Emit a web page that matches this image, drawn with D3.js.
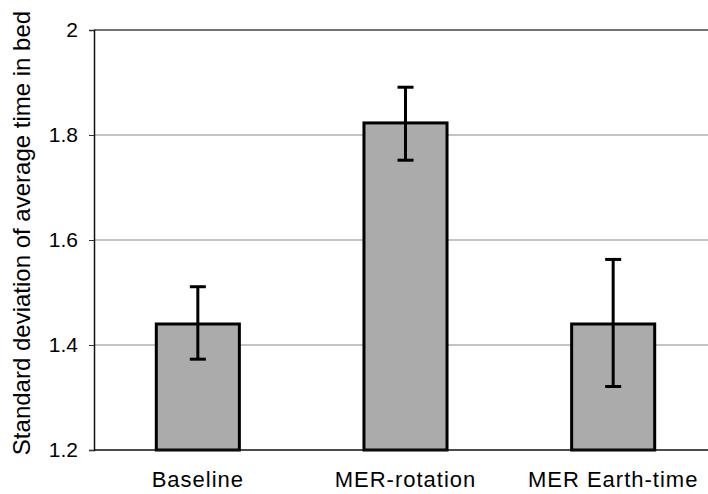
<!DOCTYPE html>
<html><head><meta charset="utf-8">
<script src="https://cdn.jsdelivr.net/npm/d3@7"></script>
<style>html,body{margin:0;padding:0;background:#fff;overflow:hidden}</style>
</head><body>
<script>
const categories = ["Baseline", "MER-rotation", "MER Earth-time"];
const means = [1.44, 1.823, 1.44];
const errLow = [1.373, 1.752, 1.321];
const errHigh = [1.511, 1.891, 1.563];
const yTicks = [1.2, 1.4, 1.6, 1.8, 2];
const yLabel = "Standard deviation of average time in bed";

const W = 708, H = 494;
const m = {left: 94, top: 30, bottom: 44};
const plotW = 623;
const svg = d3.select("body").append("svg").attr("width", W).attr("height", H)
  .style("font-family", "Liberation Sans, Arial, sans-serif");

const x = d3.scaleBand().domain(categories).range([m.left, m.left + plotW])
  .paddingInner(0.6).paddingOuter(0.3);
const y = d3.scaleLinear().domain([1.2, 2]).range([H - m.bottom, m.top]);

// gridlines
svg.append("g").selectAll("line").data(yTicks.filter(t => t > 1.2 && t < 2)).join("line")
  .attr("x1", m.left).attr("x2", m.left + plotW)
  .attr("y1", d => y(d)).attr("y2", d => y(d))
  .attr("stroke", "#8a8a8a").attr("stroke-width", 1.2);

// top border
svg.append("line").attr("x1", m.left).attr("x2", m.left + plotW)
  .attr("y1", y(2)).attr("y2", y(2)).attr("stroke", "#444").attr("stroke-width", 1.5);

// bars
svg.append("g").selectAll("rect").data(categories).join("rect")
  .attr("x", d => x(d)).attr("width", x.bandwidth())
  .attr("y", (d, i) => y(means[i])).attr("height", (d, i) => y(1.2) - y(means[i]))
  .attr("fill", "#ababab").attr("stroke", "#000").attr("stroke-width", 3);

// error bars
const eb = svg.append("g").attr("stroke", "#000").attr("stroke-width", 3);
categories.forEach((c, i) => {
  const cx = x(c) + x.bandwidth() / 2;
  eb.append("line").attr("x1", cx).attr("x2", cx).attr("y1", y(errLow[i])).attr("y2", y(errHigh[i]));
  eb.append("line").attr("x1", cx - 8).attr("x2", cx + 8).attr("y1", y(errLow[i])).attr("y2", y(errLow[i]));
  eb.append("line").attr("x1", cx - 8).attr("x2", cx + 8).attr("y1", y(errHigh[i])).attr("y2", y(errHigh[i]));
});

// y axis
const yAxis = d3.axisLeft(y).tickValues(yTicks).tickSize(5).tickPadding(11)
  .tickFormat(d => d3.format("")(d));
const ya = svg.append("g").attr("transform", `translate(${m.left},0)`).call(yAxis);
ya.select(".domain").attr("stroke", "#111").attr("stroke-width", 1.5);
ya.selectAll(".tick line").attr("stroke", "#333");
ya.selectAll("text").attr("font-size", 21).attr("fill", "#000")
  .attr("font-family", "Liberation Sans, Arial, sans-serif");

// x axis line
svg.append("line").attr("x1", m.left).attr("x2", m.left + plotW)
  .attr("y1", y(1.2)).attr("y2", y(1.2)).attr("stroke", "#111").attr("stroke-width", 1.5);

// x labels
svg.append("g").selectAll("text").data(categories).join("text")
  .attr("x", d => x(d) + x.bandwidth() / 2).attr("y", 487)
  .attr("text-anchor", "middle").attr("font-size", 22).attr("letter-spacing", 1)
  .text(d => d);

// y label
svg.append("text").attr("transform", `translate(30,233) rotate(-90)`)
  .attr("text-anchor", "middle").attr("font-size", 24).text(yLabel);
</script>
</body></html>
